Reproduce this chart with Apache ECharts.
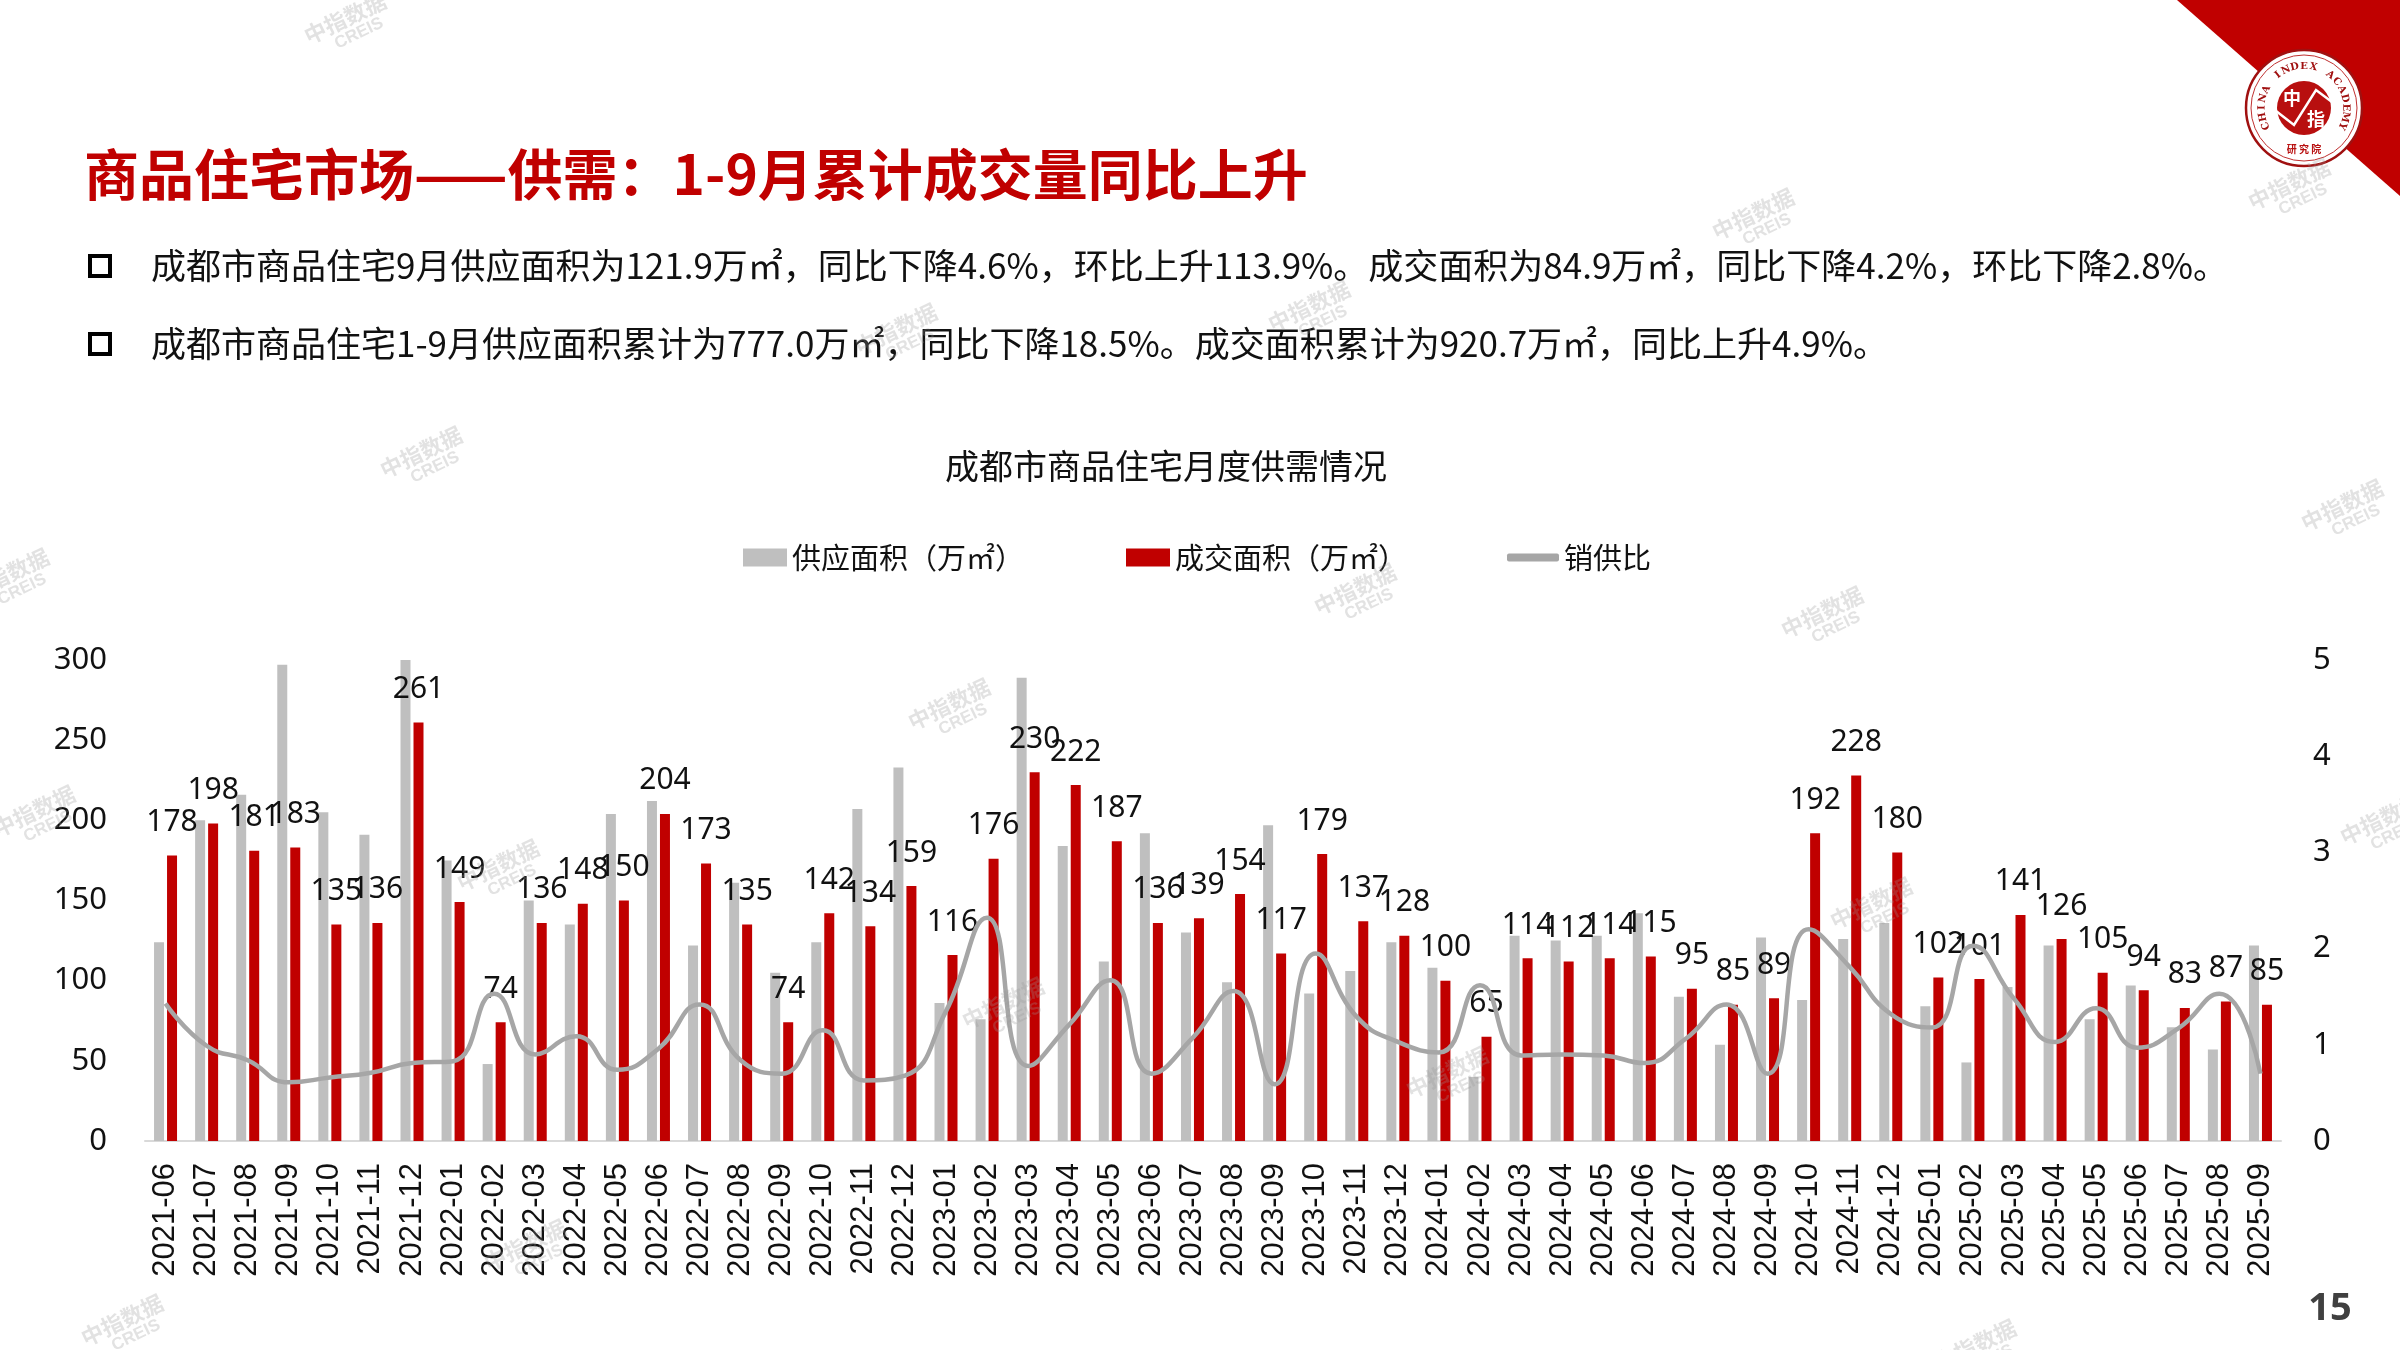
<!DOCTYPE html>
<html>
<head>
<meta charset="utf-8">
<script src="https://cdn.jsdelivr.net/npm/echarts@6/dist/echarts.min.js"></script>
<style>
html,body{margin:0;padding:0;background:#fff;}
#c{width:2400px;height:1350px;}
</style>
</head>
<body>
<div id="c"></div>
<script>
const categories = ['2021-06','2021-07','2021-08','2021-09','2021-10','2021-11','2021-12',
'2022-01','2022-02','2022-03','2022-04','2022-05','2022-06','2022-07','2022-08','2022-09','2022-10','2022-11','2022-12',
'2023-01','2023-02','2023-03','2023-04','2023-05','2023-06','2023-07','2023-08','2023-09','2023-10','2023-11','2023-12',
'2024-01','2024-02','2024-03','2024-04','2024-05','2024-06','2024-07','2024-08','2024-09','2024-10','2024-11','2024-12',
'2025-01','2025-02','2025-03','2025-04','2025-05','2025-06','2025-07','2025-08','2025-09'];
const supply = [124,200,216,297,205,191,322,
175,48,150,135,204,212,122,161,105,124,207,233,
86,76,289,184,112,192,130,99,197,92,106,124,
108,40,128,125,128,142,90,60,127,88,126,136,
84,49,96,122,76,97,71,57,122];
const sales = [178,198,181,183,135,136,261,
149,74,136,148,150,204,173,135,74,142,134,159,
116,176,230,222,187,136,139,154,117,179,137,128,
100,65,114,112,114,115,95,85,89,192,228,180,
102,101,141,126,105,94,83,87,85];
const ratio = [1.43,0.99,0.84,0.61,0.66,0.71,0.81,
0.83,1.53,0.90,1.09,0.74,0.96,1.42,0.84,0.70,1.15,0.63,0.68,
1.35,2.32,0.78,1.21,1.67,0.70,1.07,1.56,0.59,1.95,1.29,1.03,
0.92,1.62,0.89,0.90,0.89,0.81,1.06,1.42,0.70,2.20,1.81,1.32,
1.18,2.03,1.48,1.03,1.38,0.97,1.17,1.53,0.70];
const leftTicks = [0, 300, 50];
const rightTicks = [0, 5, 1];
const seriesNames = ['供应面积（万㎡）','成交面积（万㎡）','销供比'];
const pageTitle = '商品住宅市场——供需：1-9月累计成交量同比上升';
const bullets = [
 '成都市商品住宅9月供应面积为121.9万㎡，同比下降4.6%，环比上升113.9%。成交面积为84.9万㎡，同比下降4.2%，环比下降2.8%。',
 '成都市商品住宅1-9月供应面积累计为777.0万㎡，同比下降18.5%。成交面积累计为920.7万㎡，同比上升4.9%。'
];
const chartTitle = '成都市商品住宅月度供需情况';

const CJK = '"Noto Sans CJK SC","Noto Sans",sans-serif';
const NUM = '"Noto Sans","Noto Sans CJK SC",sans-serif';

// watermark positions (decoration)
const wmPos = [[345,18],[1753,214],[2289,184],[1309,306],[896,329],[421,452],[2342,505],[1355,589],
[1822,612],[8,574],[34,811],[949,704],[498,865],[2381,819],[1003,1003],[1871,903],[1447,1072],[122,1320],[1975,1345],[525,1245]];

const graphics = [];
// red corner
graphics.push({type:'polygon', shape:{points:[[2177,0],[2400,0],[2400,196]]}, style:{fill:'#C00000'}});
// logo
const cx = 2304, cy = 108;
graphics.push({type:'circle', shape:{cx:cx, cy:cy, r:58}, style:{fill:'#fff', stroke:'#A01010', lineWidth:2.5}});
graphics.push({type:'circle', shape:{cx:cx, cy:cy, r:53}, style:{fill:'none', stroke:'#C03030', lineWidth:1}});
graphics.push({type:'circle', shape:{cx:cx, cy:cy, r:27}, style:{fill:'#B80F0F'}});
graphics.push({type:'polyline', shape:{points:[[cx-28,cy+3],[cx-10,cy+17],[cx+12,cy-18],[cx+28,cy-6]]}, style:{stroke:'#fff', lineWidth:2.5, fill:'none'}});
graphics.push({type:'text', style:{text:'中', x:cx-12, y:cy-10, font:'bold 18px '+CJK, fill:'#fff', textAlign:'center', textVerticalAlign:'middle'}});
graphics.push({type:'text', style:{text:'指', x:cx+12, y:cy+11, font:'bold 18px '+CJK, fill:'#fff', textAlign:'center', textVerticalAlign:'middle'}});
graphics.push({type:'text', style:{text:'研 究 院', x:cx, y:cy+41, font:'bold 10px '+CJK, fill:'#B80F0F', textAlign:'center', textVerticalAlign:'middle'}});
const arcText = 'CHINA INDEX ACADEMY';
for (let i = 0; i < arcText.length; i++) {
  const a = (205 - i * (230 / (arcText.length - 1))) * Math.PI / 180;
  const r = 42;
  graphics.push({type:'text', x: cx + r * Math.cos(a), y: cy - r * Math.sin(a), rotation: a - Math.PI/2,
    style:{text: arcText[i], x:0, y:0, font:'bold 10px "DejaVu Serif",serif', fill:'#A01010', textAlign:'center', textVerticalAlign:'middle'}});
}
// watermarks
wmPos.forEach(p => {
  graphics.push({type:'group', x:p[0], y:p[1], rotation:0.45, silent:true, children:[
    {type:'text', z:50, style:{text:'中指数据', x:0, y:0, font:'bold 22px '+CJK, fill:'rgba(150,150,150,0.28)', textAlign:'center', textVerticalAlign:'middle'}},
    {type:'text', z:50, style:{text:'CREIS', x:6, y:20, font:'bold 17px "Liberation Sans",sans-serif', fill:'rgba(150,150,150,0.28)', textAlign:'center', textVerticalAlign:'middle'}}
  ]});
});
// title
graphics.push({type:'text', style:{text:pageTitle, x:84, y:174, font:'bold 55px '+CJK, fill:'#C00000', textVerticalAlign:'middle'}});
// bullets
bullets.forEach((b, i) => {
  const y = 266 + i * 78;
  graphics.push({type:'rect', shape:{x:90, y:y-10, width:20, height:20}, style:{fill:'#fff', stroke:'#000', lineWidth:4}});
  graphics.push({type:'text', style:{text:b, x:151, y:y, font:'35px '+CJK, fill:'#111', textVerticalAlign:'middle'}});
});
// chart title
graphics.push({type:'text', style:{text:chartTitle, x:1166, y:466, font:'34px '+CJK, fill:'#111', textAlign:'center', textVerticalAlign:'middle'}});
// page number
graphics.push({type:'text', style:{text:'15', x:2330, y:1309, font:'bold 38px "Noto Sans",sans-serif', fill:'#404040', textAlign:'center', textVerticalAlign:'middle'}});

const legendBase = {top:538, itemHeight:18, itemWidth:44, textStyle:{fontSize:29, fontFamily:CJK, color:'#111'}, selectedMode:false};

const chart = echarts.init(document.getElementById('c'), null, {renderer:'canvas'});
chart.setOption({
  backgroundColor:'#fff',
  animation:false,
  graphic:graphics,
  legend:[
    Object.assign({}, legendBase, {left:738, data:[{name:seriesNames[0], icon:'rect'}]}),
    Object.assign({}, legendBase, {left:1121, data:[{name:seriesNames[1], icon:'rect'}]}),
    Object.assign({}, legendBase, {left:1502, itemWidth:52, itemHeight:8, data:[{name:seriesNames[2], icon:'roundRect'}]})
  ],
  grid:{left:145, right:119, top:660, bottom:209, containLabel:false},
  xAxis:{
    type:'category', data:categories,
    axisLine:{lineStyle:{color:'#D9D9D9', width:2}},
    axisTick:{show:false},
    axisLabel:{rotate:90, interval:0, margin:22, fontSize:31, fontFamily:'"Liberation Sans",Arial,sans-serif', color:'#111'}
  },
  yAxis:[
    {type:'value', min:leftTicks[0], max:leftTicks[1], interval:leftTicks[2], splitLine:{show:false}, axisLine:{show:false}, axisTick:{show:false},
     axisLabel:{margin:38, fontSize:31, fontFamily:NUM, color:'#111'}},
    {type:'value', min:rightTicks[0], max:rightTicks[1], interval:rightTicks[2], splitLine:{show:false}, axisLine:{show:false}, axisTick:{show:false},
     axisLabel:{margin:32, fontSize:31, fontFamily:NUM, color:'#111'}}
  ],
  series:[
    {name:seriesNames[0], type:'bar', data:supply, barWidth:10, barGap:'30%', clip:true, itemStyle:{color:'#BFBFBF'}, z:2},
    {name:seriesNames[1], type:'bar', data:sales, barWidth:10, barGap:'30%', itemStyle:{color:'#C00000'}, z:2,
     label:{show:true, position:'top', distance:18, fontSize:30, fontFamily:NUM, color:'#111'}},
    {name:seriesNames[2], type:'line', yAxisIndex:1, data:ratio, smooth:true, showSymbol:false, symbol:'none',
     lineStyle:{color:'#A6A6A6', width:4.5}, itemStyle:{color:'#A6A6A6'}, z:3}
  ]
});
</script>
</body>
</html>
